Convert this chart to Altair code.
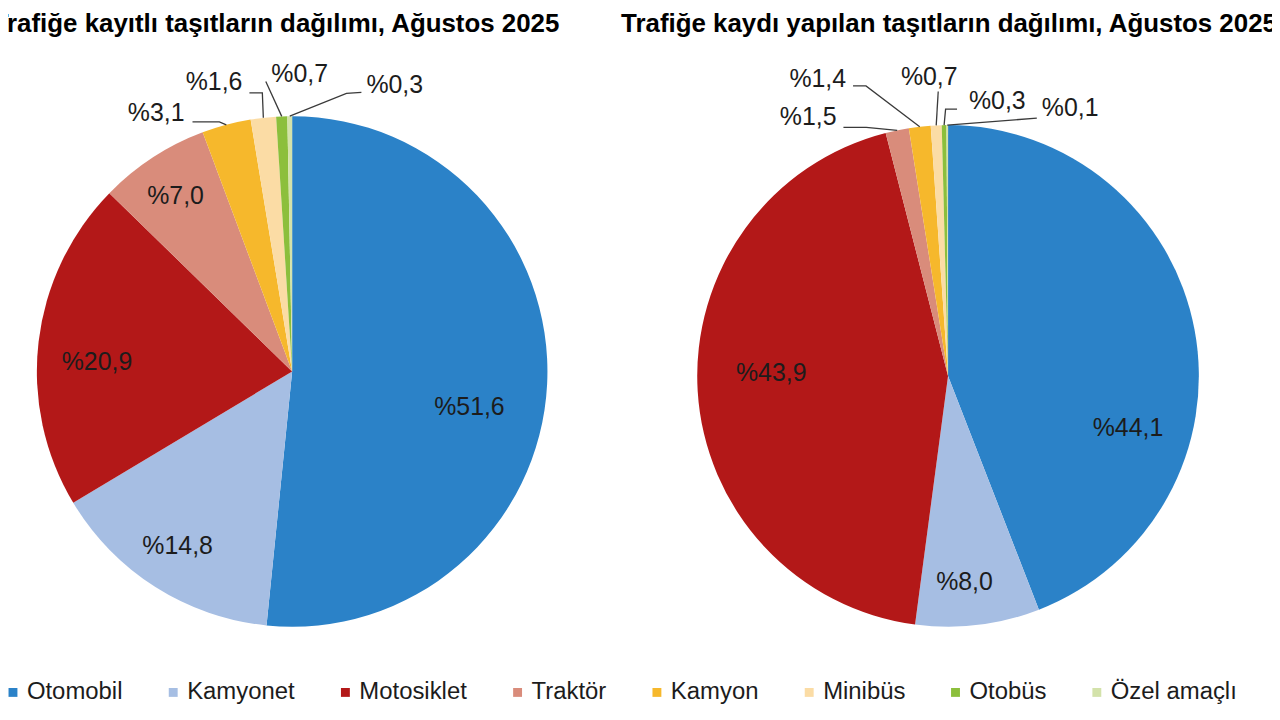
import math

import altair as alt
import pandas as pd

# Vehicle types, in the order the slices run clockwise from 12 o'clock
CATEGORIES = ["Otomobil", "Kamyonet", "Motosiklet", "Traktör", "Kamyon",
              "Minibüs", "Otobüs", "Özel amaçlı"]
COLORS = ["#2b82c8", "#a6bee3", "#b31818", "#d98c7b", "#f6b82c",
          "#fbdca5", "#8cbf3c", "#d3e2aa"]

# shares in %, August 2025
REGISTERED = [51.6, 14.8, 20.9, 7.0, 3.1, 1.6, 0.7, 0.3]   # registered stock
NEWLY_REGISTERED = [44.1, 8.0, 43.9, 1.5, 1.4, 0.7, 0.3, 0.1]

TITLE_LEFT = "Trafiğe kayıtlı taşıtların dağılımı, Ağustos 2025"
TITLE_RIGHT = "Trafiğe kaydı yapılan taşıtların dağılımı, Ağustos 2025"

W, H = 1270, 704
FONT = "Liberation Sans"
INK = "#1c1c1c"

# label placement (pixel nudges, Excel-style manual layout)
LEFT_INSIDE = {"Otomobil": (-14, 26), "Kamyonet": (-12, 13),
               "Motosiklet": (-5, 13), "Traktör": (-12, -15)}
LEFT_OUTSIDE = {  # elbow, end, label, align  (offsets from the slice's rim point)
    "Kamyon": ((-7, -3), (-34, -3), (-42, -12), "right"),
    "Minibüs": ((-1, -25), (-14, -25), (-21, -36), "right"),
    "Otobüs": ((-16, -35), (-16, -35), (18, -43), "center"),
    "Özel amaçlı": ((57, -23), (72, -24), (77, -31), "left"),
}
RIGHT_INSIDE = {"Otomobil": (-5, 87), "Kamyonet": (-6, 19), "Motosiklet": (11, -14)}
RIGHT_OUTSIDE = {
    "Traktör": ((-31, -3), (-54, -3), (-61, -13), "right"),
    "Kamyon": ((-54, -41), (-67, -41), (-74, -48), "right"),
    "Minibüs": ((2, -34), (2, -34), (-7, -49), "center"),
    "Otobüs": ((1.5, -16), (13, -16), (25, -24), "left"),
    "Özel amaçlı": ((90, -7), (90, -7), (95, -17), "left"),
}

COLOR = alt.Color(
    "category:N",
    scale=alt.Scale(domain=CATEGORIES, range=COLORS),
    legend=alt.Legend(
        title=None, orient="none", legendX=-7, legendY=674, direction="horizontal",
        columns=8, columnPadding=38, padding=0, symbolType="square", symbolSize=80,
        symbolStrokeWidth=0, symbolOpacity=1, labelFont=FONT, labelFontSize=24,
        labelColor=INK, labelOffset=2, labelLimit=0,
    ),
)
PX = dict(scale=None, axis=None)


def pct_label(v):
    return "%" + f"{v:.1f}".replace(".", ",")


def polar(cx, cy, r, pct):
    a = math.radians(pct * 3.6)
    return cx + r * math.sin(a), cy - r * math.cos(a)


def pie(values, cx, cy, r, inside, outside):
    df = pd.DataFrame({"category": CATEGORIES, "value": values,
                       "idx": range(len(CATEGORIES))})
    df["label"] = [pct_label(v) for v in values]
    df["mid"] = df["value"].cumsum() - df["value"] / 2

    arcs = alt.Chart(df).mark_arc(outerRadius=r).encode(
        theta=alt.Theta("value:Q", stack=True, scale=alt.Scale(domain=[0, 100])),
        color=COLOR,
        order=alt.Order("idx:Q"),
        x=alt.value(cx),
        y=alt.value(cy),
    )

    labels, lines = [], []
    for row in df.itertuples():
        if row.category in inside:
            dx, dy = inside[row.category]
            x, y = polar(cx, cy, 0.75 * r, row.mid)
            labels.append({"x": x + dx, "y": y + dy, "label": row.label, "align": "center"})
        else:
            elbow, end, lab, align = outside[row.category]
            ax, ay = polar(cx, cy, r, row.mid)
            for k, (ox, oy) in enumerate([(0, 0), elbow, end]):
                lines.append({"key": row.category, "k": k, "x": ax + ox, "y": ay + oy})
            labels.append({"x": ax + lab[0], "y": ay + lab[1], "label": row.label,
                           "align": align})
    labels = pd.DataFrame(labels)

    leaders = alt.Chart(pd.DataFrame(lines)).mark_line(
        color="#3a3a3a", strokeWidth=1.3
    ).encode(
        x=alt.X("x:Q", **PX), y=alt.Y("y:Q", **PX),
        detail="key:N", order="k:Q",
    )
    layers = [arcs, leaders]
    for align in ["left", "center", "right"]:
        part = labels[labels["align"] == align]
        if part.empty:
            continue
        layers.append(
            alt.Chart(part).mark_text(
                align=align, baseline="middle", font=FONT, fontSize=25, color=INK
            ).encode(x=alt.X("x:Q", **PX), y=alt.Y("y:Q", **PX), text="label:N")
        )
    return layers


def title(text, x, align):
    return alt.Chart(pd.DataFrame({"t": [text]})).mark_text(
        align=align, baseline="alphabetic", font=FONT, fontSize=26,
        fontWeight="bold", color="black",
    ).encode(x=alt.value(x), y=alt.value(22), text="t:N")


layers = (
    pie(REGISTERED, 285.5, 363.5, 256.5, LEFT_INSIDE, LEFT_OUTSIDE)
    + pie(NEWLY_REGISTERED, 944.5, 368, 252, RIGHT_INSIDE, RIGHT_OUTSIDE)
    + [title(TITLE_LEFT, 554, "right"), title(TITLE_RIGHT, 616, "left")]
)

chart = (
    alt.layer(*layers)
    .properties(width=W, height=H, autosize=alt.AutoSizeParams(type="none"),
                padding=0, background="white")
    .configure_view(stroke=None)
)

chart.save("out.html", embed_options={"renderer": "svg", "actions": False})
